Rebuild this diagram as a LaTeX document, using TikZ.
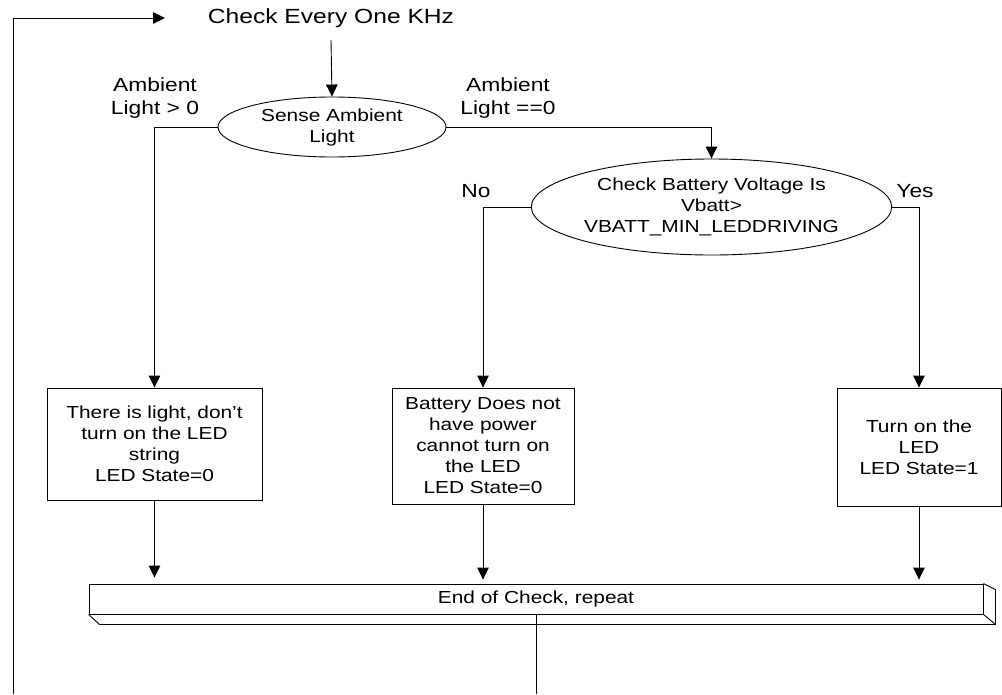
\documentclass[tikz,border=0pt]{standalone}
\usepackage{fontspec}
\setmainfont{Liberation Sans}[FakeStretch=1.2]
\usetikzlibrary{shapes.geometric,arrows.meta,calc}
\begin{document}
\begin{tikzpicture}[x=1pt,y=-1pt,line width=0.9pt,
  arr/.style={-{Triangle[length=12pt,width=11.5pt]}},
  txt/.style={font=\fontsize{17.4}{21}\selectfont,align=center,inner sep=0pt},
  lbl/.style={font=\fontsize{19}{23}\selectfont,align=center,inner sep=0pt},
  dec/.style={draw,ellipse,inner sep=0pt,txt},
  proc/.style={draw,rectangle,inner sep=0pt,txt}]
\useasboundingbox (0,0) rectangle (1002,694);

\node[font=\fontsize{20.5}{24}\selectfont,inner sep=0pt] (check) at (331,18) {Check Every One KHz};
\node[dec,minimum width=228pt,minimum height=60pt] (sense) at (332,127) {Sense Ambient\\Light};
\node[dec,minimum width=347pt,minimum height=96pt] (batt) at (711.5,207) {Check Battery Voltage Is\\Vbatt>\\VBATT\_MIN\_LEDDRIVING};

\node[proc,minimum width=215pt,minimum height=112pt] (b1) at (154.5,444) {There is light, don't\\turn on the LED\\string\\LED State=0};
\node[proc,minimum width=182pt,minimum height=116pt] (b2) at (483,446) {Battery Does not\\have power\\cannot turn on\\the LED\\LED State=0};
\node[proc,minimum width=164pt,minimum height=118pt] (b3) at (919,447) {Turn on the\\LED\\LED State=1};

\node[draw,rectangle,txt,minimum width=894pt,minimum height=30pt] (bar) at (536,599) {End of Check, repeat};
\draw (bar.north east) -- ++(12,6) |- ($(bar.south west)+(11,10)$) -- (bar.south west);
\draw (bar.south east) -- ++(12,10);

\node[lbl] (l1) at (155,98) {Ambient\\Light > 0};
\node[lbl] (l2) at (508,98) {Ambient\\Light ==0};
\node[lbl] (no) at (476,191) {No};
\node[lbl] (yes) at (915,191) {Yes};

\draw[arr] ($(check.south)+(0,12)$) -- (sense.north);
\draw[arr] (sense.west) -| (b1.north);
\draw[arr] (sense.east) -| (batt.north);
\draw[arr] (batt.west) -| (b2.north);
\draw[arr] (batt.east) -| (b3.north);
\draw[arr] (b1.south) -- ($(b1.south |- bar.north)+(0,-6)$);
\draw[arr] (b2.south) -- ($(b2.south |- bar.north)+(0,-4)$);
\draw[arr] (b3.south) -- ($(b3.south |- bar.north)+(0,-4)$);

\coordinate (bot) at (536,694);
\coordinate (lb) at (13,694);
\coordinate (lt) at (13,18);
\coordinate (lend) at (165,18);
\draw (bar.south) -- (bot);
\draw[arr] (lb) -- (lt) -- (lend);
\end{tikzpicture}
\end{document}
